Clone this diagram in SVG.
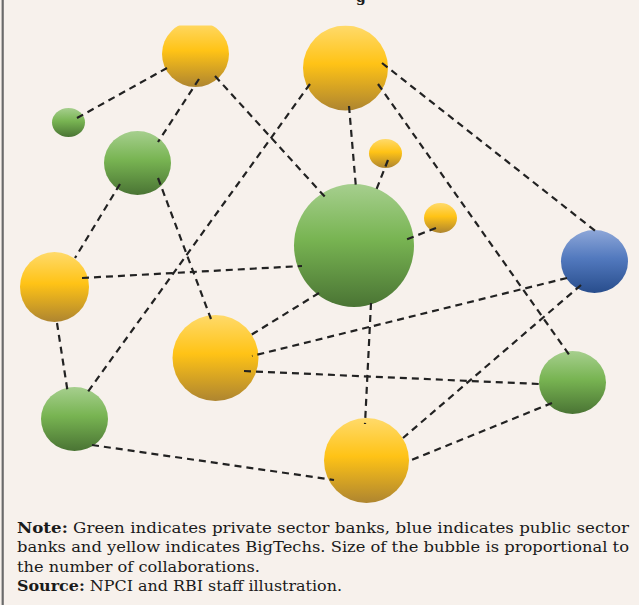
<svg xmlns="http://www.w3.org/2000/svg" width="639" height="605" viewBox="0 0 639 605">
<defs>
  <linearGradient id="gy" x1="0" y1="0" x2="0" y2="1">
    <stop offset="0" stop-color="#FFDA6A"/>
    <stop offset="0.45" stop-color="#FFC316"/>
    <stop offset="1" stop-color="#AE8530"/>
  </linearGradient>
  <linearGradient id="gg" x1="0" y1="0" x2="0" y2="1">
    <stop offset="0" stop-color="#A6CF8E"/>
    <stop offset="0.45" stop-color="#78B452"/>
    <stop offset="1" stop-color="#4A7434"/>
  </linearGradient>
  <linearGradient id="gb" x1="0" y1="0" x2="0" y2="1">
    <stop offset="0" stop-color="#8EA7D8"/>
    <stop offset="0.45" stop-color="#5279BE"/>
    <stop offset="1" stop-color="#284D8C"/>
  </linearGradient>
  <clipPath id="area"><rect x="0" y="25.5" width="639" height="490"/></clipPath>
  <style>
    .y{fill:url(#gy)}
    .g{fill:url(#gg)}
    .b{fill:url(#gb)}
    .e line{stroke:#222;stroke-width:2.2;stroke-dasharray:7 5;fill:none}
    .t{font-family:"DejaVu Serif","Liberation Serif",serif;font-size:14px;fill:#1a1a1a}
    .bd{font-weight:bold}
  </style>
</defs>
<rect x="0" y="0" width="639" height="605" fill="#F7F1EC"/>
<line x1="2.7" y1="0" x2="2.7" y2="605" stroke="#6B6B6B" stroke-width="2.2"/>
<text class="t bd" x="361" y="1.5" text-anchor="middle" font-size="15">g</text>
<g clip-path="url(#area)">
  <g id="nA"><ellipse class="y" cx="195.5" cy="54" rx="33.5" ry="33"/></g>
  <g id="nB"><circle class="y" cx="345.5" cy="68" r="42.5"/></g>
  <g id="nC"><ellipse class="g" cx="68.5" cy="122.5" rx="16.5" ry="14.5"/></g>
  <g id="nD"><ellipse class="g" cx="137.5" cy="163" rx="33.5" ry="32"/></g>
  <g id="nE"><ellipse class="y" cx="385.5" cy="153.5" rx="16.5" ry="14.5"/></g>
  <g id="nF"><ellipse class="g" cx="354" cy="245.5" rx="60" ry="61.5"/></g>
  <g id="nG"><ellipse class="y" cx="440.5" cy="218" rx="16.5" ry="15"/></g>
  <g id="nH"><ellipse class="y" cx="54.5" cy="287" rx="34.5" ry="35"/></g>
  <g id="nI"><ellipse class="b" cx="594.5" cy="261.5" rx="33.5" ry="31.5"/></g>
  <g id="nJ"><circle class="y" cx="215.5" cy="358" r="43"/></g>
  <g id="nK"><ellipse class="g" cx="572.5" cy="382.5" rx="33.5" ry="31.5"/></g>
  <g id="nL"><ellipse class="g" cx="74.5" cy="419" rx="33.5" ry="32"/></g>
  <g id="nM"><circle class="y" cx="366.5" cy="460.5" r="42.5"/></g>
  <g id="edges" class="e">
    <line x1="77" y1="118" x2="167" y2="68"/>
    <line x1="199" y1="79" x2="158" y2="142"/>
    <line x1="215" y1="76" x2="326" y2="198"/>
    <line x1="310" y1="84" x2="87" y2="393"/>
    <line x1="349" y1="106" x2="356" y2="188"/>
    <line x1="382" y1="63" x2="598" y2="233"/>
    <line x1="378" y1="84" x2="570" y2="356"/>
    <line x1="388" y1="160" x2="375" y2="193"/>
    <line x1="436" y1="228" x2="405" y2="240"/>
    <line x1="120" y1="184" x2="75" y2="258"/>
    <line x1="158" y1="178" x2="211" y2="319"/>
    <line x1="82" y1="278" x2="302" y2="266"/>
    <line x1="57" y1="323" x2="68" y2="394"/>
    <line x1="319" y1="293" x2="251" y2="335"/>
    <line x1="371" y1="303" x2="365" y2="424"/>
    <line x1="567" y1="278" x2="252" y2="356"/>
    <line x1="581" y1="285" x2="403" y2="438"/>
    <line x1="244" y1="371" x2="539" y2="384"/>
    <line x1="552" y1="403" x2="409" y2="461"/>
    <line x1="92" y1="445" x2="334" y2="480"/>
  </g>
</g>
<g id="notes">
  <text class="t" x="17" y="532.5" textLength="612" lengthAdjust="spacingAndGlyphs"><tspan class="bd">Note:</tspan> Green indicates private sector banks, blue indicates public sector</text>
  <text class="t" x="17" y="552" textLength="612" lengthAdjust="spacingAndGlyphs">banks and yellow indicates BigTechs. Size of the bubble is proportional to</text>
  <text class="t" x="17" y="571.5" textLength="243" lengthAdjust="spacingAndGlyphs">the number of collaborations.</text>
  <text class="t" x="17" y="591" textLength="325" lengthAdjust="spacingAndGlyphs"><tspan class="bd">Source:</tspan> NPCI and RBI staff illustration.</text>
</g>
</svg>
